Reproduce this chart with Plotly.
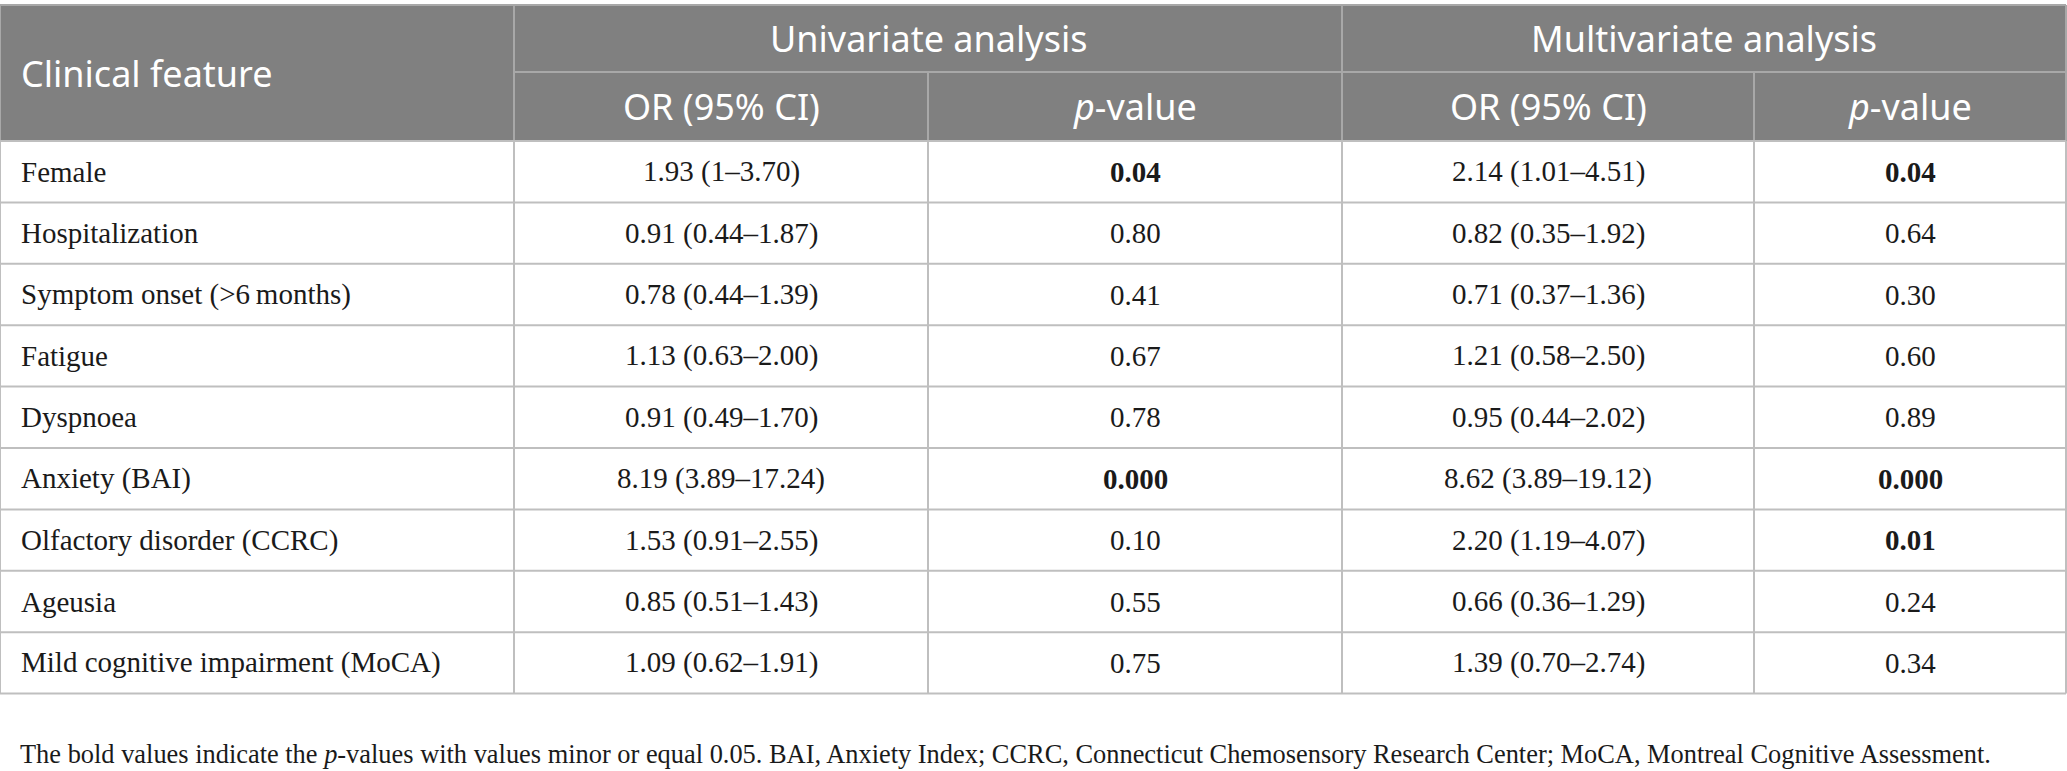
import plotly.graph_objects as go

# table content
features = ["Female", "Hospitalization", "Symptom onset (>6\u2009months)", "Fatigue",
            "Dyspnoea", "Anxiety (BAI)", "Olfactory disorder (CCRC)", "Ageusia",
            "Mild cognitive impairment (MoCA)"]
uni_or = ["1.93 (1\u20133.70)", "0.91 (0.44\u20131.87)", "0.78 (0.44\u20131.39)", "1.13 (0.63\u20132.00)",
          "0.91 (0.49\u20131.70)", "8.19 (3.89\u201317.24)", "1.53 (0.91\u20132.55)", "0.85 (0.51\u20131.43)",
          "1.09 (0.62\u20131.91)"]
uni_p = ["0.04", "0.80", "0.41", "0.67", "0.78", "0.000", "0.10", "0.55", "0.75"]
multi_or = ["2.14 (1.01\u20134.51)", "0.82 (0.35\u20131.92)", "0.71 (0.37\u20131.36)", "1.21 (0.58\u20132.50)",
            "0.95 (0.44\u20132.02)", "8.62 (3.89\u201319.12)", "2.20 (1.19\u20134.07)", "0.66 (0.36\u20131.29)",
            "1.39 (0.70\u20132.74)"]
multi_p = ["0.04", "0.64", "0.30", "0.60", "0.89", "0.000", "0.01", "0.24", "0.34"]

groups = ["Univariate analysis", "Multivariate analysis"]
sub_headers = ["OR (95% CI)", "<i>p</i>-value", "OR (95% CI)", "<i>p</i>-value"]
footnote = ("The bold values indicate the <i>p</i>-values with values minor or equal 0.05. "
            "BAI, Anxiety Index; CCRC, Connecticut Chemosensory Research Center; "
            "MoCA, Montreal Cognitive Assessment.")

W, H = 2067, 771
col_x = [0, 514, 928, 1342, 1754, 2066]
top, mid, head_bot = 5, 72, 141
row_h = 61.4

HEAD_BG = "#808080"
HEAD_LINE = "#a8a8a8"
BODY_LINE = "#bfbfbf"
head_font = dict(family="Noto Sans, Open Sans, sans-serif", size=36, color="white")
body_font = dict(family="Liberation Serif, Times New Roman, serif", size=29, color="#1a1a1a")

fig = go.Figure()
shapes = []
ann = []

n = len(features)
row_edges = [head_bot + i * row_h for i in range(n + 1)]
bottom = row_edges[-1]

# header block
shapes.append(dict(type="rect", x0=col_x[0], x1=col_x[-1], y0=top, y1=head_bot,
                   fillcolor=HEAD_BG, line=dict(width=0), layer="below"))
shapes.append(dict(type="line", x0=col_x[0], x1=col_x[-1], y0=top, y1=top,
                   line=dict(color=HEAD_LINE, width=2)))
shapes.append(dict(type="line", x0=col_x[1], x1=col_x[-1], y0=mid, y1=mid,
                   line=dict(color=HEAD_LINE, width=2)))
for i in [1, 3, 5]:
    shapes.append(dict(type="line", x0=col_x[i], x1=col_x[i], y0=top, y1=head_bot,
                       line=dict(color=HEAD_LINE, width=2)))
for i in [2, 4]:
    shapes.append(dict(type="line", x0=col_x[i], x1=col_x[i], y0=mid, y1=head_bot,
                       line=dict(color=HEAD_LINE, width=2)))
shapes.append(dict(type="line", x0=col_x[0], x1=col_x[0], y0=top, y1=head_bot,
                   line=dict(color=HEAD_LINE, width=2)))

# body grid
for y in row_edges:
    shapes.append(dict(type="line", x0=col_x[0], x1=col_x[-1], y0=y, y1=y,
                       line=dict(color=BODY_LINE, width=2)))
for x in col_x:
    shapes.append(dict(type="line", x0=x, x1=x, y0=head_bot, y1=bottom,
                       line=dict(color=BODY_LINE, width=2)))

# header text
ann.append(dict(x=19, y=(top + head_bot) / 2, text="Clinical feature", xanchor="left",
                font=head_font))
for g, name in enumerate(groups):
    ann.append(dict(x=(col_x[1 + 2 * g] + col_x[3 + 2 * g]) / 2, y=(top + mid) / 2,
                    text=name, font=head_font))
for j, name in enumerate(sub_headers):
    ann.append(dict(x=(col_x[1 + j] + col_x[2 + j]) / 2, y=(mid + head_bot) / 2,
                    text=name, font=head_font))

# body text
columns = [uni_or, uni_p, multi_or, multi_p]
for i in range(n):
    yc = (row_edges[i] + row_edges[i + 1]) / 2
    ann.append(dict(x=19, y=yc, text=features[i], xanchor="left", font=body_font))
    for j, col in enumerate(columns):
        txt = col[i]
        if j in (1, 3) and float(txt) <= 0.05:
            txt = "<b>" + txt + "</b>"
        ann.append(dict(x=(col_x[1 + j] + col_x[2 + j]) / 2, y=yc, text=txt, font=body_font))

ann.append(dict(x=19, y=754, text=footnote, xanchor="left", borderpad=0,
                font=dict(family="Liberation Serif, Times New Roman, serif", size=26.4, color="#1a1a1a")))

for a in ann:
    a.update(xref="x", yref="y", showarrow=False, yanchor="middle")

fig.update_layout(
    width=W, height=H,
    margin=dict(l=0, r=0, t=0, b=0),
    paper_bgcolor="white", plot_bgcolor="white",
    xaxis=dict(range=[0, W], visible=False, fixedrange=True),
    yaxis=dict(range=[H, 0], visible=False, fixedrange=True),
    shapes=shapes, annotations=ann,
    showlegend=False,
)

fig.write_html("out.html", config={"displayModeBar": False},
               post_script="document.body.style.margin='0';")
